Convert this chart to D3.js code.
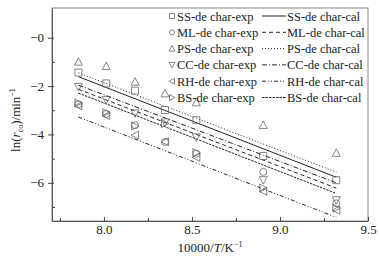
<!DOCTYPE html>
<html>
<head>
<meta charset="utf-8">
<script src="https://cdn.jsdelivr.net/npm/d3@7"></script>
<style>
  body { margin: 0; background: #fff; }
  text { font-family: "Liberation Serif", "Times New Roman", serif; fill: #222; }
</style>
</head>
<body>
<div id="chart"></div>
<script>
// x values (10000/T)
var invT = [7.855, 8.013, 8.177, 8.347, 8.525, 8.905, 9.320];

// experimental ln(r_co)
var ssExp = [-1.44, -1.89, -2.19, -2.99, -3.41, -4.89, -5.89];
var mlExp = [-2.75, -3.15, -3.62, -4.31, -4.80, -5.55, -6.85];
var psExp = [-0.99, -1.17, -1.82, -2.30, -2.67, -3.61, -4.76];
var ccExp = [-2.03, -2.58, -3.13, -3.50, -4.12, -5.89, -6.72];
var rhExp = [-2.82, -3.22, -4.03, -4.30, -4.95, -6.35, -7.13];
var bsExp = [-2.70, -3.10, -3.65, -3.55, -4.75, -6.22, -7.05];

// calculated lines, values at first and last x
var calX = [7.855, 9.320];
var ssCal = [-1.61, -5.77];
var mlCal = [-2.13, -6.22];
var psCal = [-1.45, -5.56];
var ccCal = [-1.96, -6.00];
var rhCal = [-3.28, -7.43];
var bsCal = [-2.29, -6.44];

var names = ["SS", "ML", "PS", "CC", "RH", "BS"];
var symbols = ["square", "circle", "up", "down", "left", "right"];
var dashes = ["none", "4,3", "1,2", "5,2,1,2", "4,2,1,2,1,2", "2.5,1"];

var xTicks = [8.0, 8.5, 9.0, 9.5];
var yTicks = [0, -2, -4, -6];

var expData = [ssExp, mlExp, psExp, ccExp, rhExp, bsExp];
var calData = [ssCal, mlCal, psCal, ccCal, rhCal, bsCal];

var width = 380, height = 261;
var margin = {top: 8, right: 12, bottom: 40, left: 52};

var svg = d3.select("#chart").append("svg")
    .attr("width", width)
    .attr("height", height);

var x = d3.scaleLinear().domain([7.705, 9.5]).range([margin.left, width - margin.right]);
var y = d3.scaleLinear().domain([1.23, -7.58]).range([margin.top, height - margin.bottom]);

// frame
svg.append("rect")
    .attr("x", x.range()[0]).attr("y", y.range()[0])
    .attr("width", x.range()[1] - x.range()[0])
    .attr("height", y.range()[1] - y.range()[0])
    .attr("fill", "none").attr("stroke", "#888").attr("stroke-width", 1);

// x axis (ticks inward)
var xAxis = svg.append("g")
    .attr("transform", "translate(0," + y.range()[1] + ")")
    .call(d3.axisBottom(x).tickValues(xTicks).tickFormat(d3.format(".1f")).tickSizeInner(-4).tickSizeOuter(0).tickPadding(4));
xAxis.select(".domain").attr("stroke", "#555");
xAxis.selectAll("line").attr("stroke", "#444");
xAxis.selectAll("text").style("font-size", "13px").attr("fill", "#222")
    .style("font-family", "Liberation Serif, serif");
// minor x ticks
svg.append("g")
    .attr("transform", "translate(0," + y.range()[1] + ")")
    .call(d3.axisBottom(x).tickValues([7.75, 8.25, 8.75, 9.25]).tickSizeInner(-3).tickSizeOuter(0).tickFormat(""))
    .call(function(g) { g.select(".domain").remove(); g.selectAll("line").attr("stroke", "#444"); });

// y axis
var yAxis = svg.append("g")
    .attr("transform", "translate(" + x.range()[0] + ",0)")
    .call(d3.axisLeft(y).tickValues(yTicks).tickFormat(function(d) { return "\u2212" + Math.abs(d); }).tickSizeInner(4).tickSizeOuter(0).tickPadding(4));
yAxis.select(".domain").attr("stroke", "#555");
yAxis.selectAll("line").attr("stroke", "#444").attr("x2", -4).attr("x1", 2);
yAxis.selectAll("text").style("font-size", "13px").attr("fill", "#222")
    .style("font-family", "Liberation Serif, serif");
svg.append("g")
    .attr("transform", "translate(" + x.range()[0] + ",0)")
    .call(d3.axisLeft(y).tickValues([-1, -3, -5, -7]).tickSizeInner(-3).tickSizeOuter(0).tickFormat(""))
    .call(function(g) { g.select(".domain").remove(); g.selectAll("line").attr("stroke", "#444"); });

// axis titles
var xt = svg.append("text")
    .attr("x", 210).attr("y", 252)
    .attr("text-anchor", "middle")
    .style("font-size", "13px");
xt.append("tspan").text("10000/");
xt.append("tspan").style("font-style", "italic").text("T");
xt.append("tspan").text("/K");
xt.append("tspan").attr("dy", -5).style("font-size", "8px").text("\u22121");

var yt = svg.append("text")
    .attr("transform", "translate(20,120) rotate(-90)")
    .attr("text-anchor", "middle")
    .style("font-size", "13px");
yt.append("tspan").text("ln(");
yt.append("tspan").style("font-style", "italic").text("r");
yt.append("tspan").attr("dy", 3).style("font-size", "8px").text("co");
yt.append("tspan").attr("dy", -3).text(")/min");
yt.append("tspan").attr("dy", -5).style("font-size", "8px").text("\u22121");

// marker path
function marker(type, s) {
  var h = s / 2;
  if (type === "square") return "M" + -h + "," + -h + "h" + s + "v" + s + "h" + -s + "Z";
  if (type === "circle") return d3.symbol().type(d3.symbolCircle).size(Math.PI * h * h)();
  if (type === "up") return "M0," + (-h - 0.5) + "L" + (h + 0.5) + "," + h + "L" + (-h - 0.5) + "," + h + "Z";
  if (type === "down") return "M0," + (h + 0.5) + "L" + (h + 0.5) + "," + -h + "L" + (-h - 0.5) + "," + -h + "Z";
  if (type === "left") return "M" + (-h - 0.5) + ",0L" + h + "," + (-h - 0.5) + "L" + h + "," + (h + 0.5) + "Z";
  return "M" + (h + 0.5) + ",0L" + -h + "," + (-h - 0.5) + "L" + -h + "," + (h + 0.5) + "Z";
}

// calculated lines
var line = d3.line()
    .x(function(d) { return x(d[0]); })
    .y(function(d) { return y(d[1]); });

calData.forEach(function(vals, i) {
  svg.append("path")
      .datum(calX.map(function(v, j) { return [v, vals[j]]; }))
      .attr("fill", "none")
      .attr("stroke", "#222")
      .attr("stroke-width", 1)
      .attr("stroke-dasharray", dashes[i])
      .attr("d", line);
});

// experimental points
expData.forEach(function(vals, i) {
  svg.append("g").selectAll("path")
      .data(invT.map(function(v, j) { return [v, vals[j]]; }))
      .enter().append("path")
      .attr("transform", function(d) { return "translate(" + x(d[0]) + "," + y(d[1]) + ")"; })
      .attr("d", marker(symbols[i], 7))
      .attr("fill", "none")
      .attr("stroke", "#666")
      .attr("stroke-width", 0.8);
});

// legend
var leg = svg.append("g");
names.forEach(function(n, i) {
  var cy = 16 + i * 16.3;
  leg.append("path")
      .attr("transform", "translate(172," + cy + ")")
      .attr("d", marker(symbols[i], 5))
      .attr("fill", "none").attr("stroke", "#666").attr("stroke-width", 0.8);
  leg.append("text")
      .attr("x", 177).attr("y", cy + 4.5)
      .style("font-size", "12.5px")
      .text(n + "-de char-exp");
  leg.append("line")
      .attr("x1", 262).attr("x2", 286).attr("y1", cy).attr("y2", cy)
      .attr("stroke", "#222").attr("stroke-width", 1)
      .attr("stroke-dasharray", dashes[i]);
  leg.append("text")
      .attr("x", 287).attr("y", cy + 4.5)
      .style("font-size", "12.5px")
      .text(n + "-de char-cal");
});
</script>
</body>
</html>
